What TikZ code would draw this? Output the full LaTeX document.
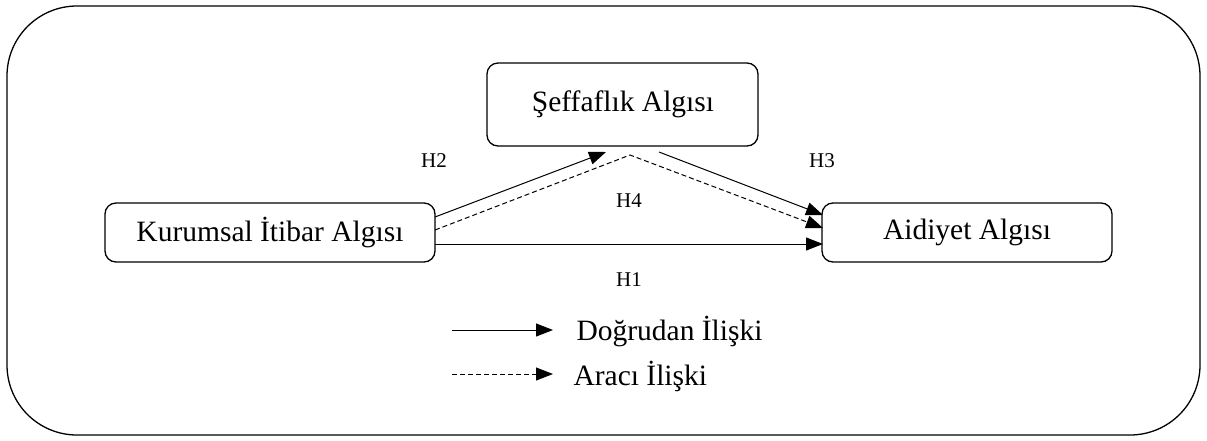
\documentclass[tikz,border=0pt]{standalone}
\usepackage{fontspec}
\setmainfont{Liberation Serif}
\usetikzlibrary{arrows.meta}
\begin{document}
\begin{tikzpicture}[x=1pt,y=-1pt,
  box/.style={draw,line width=1.3pt,rounded corners=11pt},
  big/.style={font=\fontsize{29.5}{32}\selectfont},
  tip/.style={-{Triangle[length=17pt,width=13pt]}},
  link/.style={tip,line width=1pt},
  mediated/.style={tip,line width=1pt,dash pattern=on 5pt off 3pt},
  hlabel/.style={font=\fontsize{21}{24}\selectfont},
  legend/.style={big,anchor=west}]
\useasboundingbox (0,0) rectangle (1207,440);
% outer frame
\draw[line width=1.3pt,rounded corners=70pt] (7,6) rectangle (1200,435);
% constructs
\draw[box] (105,203) rectangle (435,262);
\node[big] (kia) at (270,232.5) {Kurumsal İtibar Algısı};
\draw[box] (487,63) rectangle (758,146);
\node[big] (sa) at (623,104.5) {Şeffaflık Algısı};
\draw[box] (822,203) rectangle (1112,262);
\node[big] (aa) at (967,232.5) {Aidiyet Algısı};
% anchor points on the box borders
\coordinate (k1) at (435,217);
\coordinate (k2) at (435,230);
\coordinate (k3) at (435,244);
\coordinate (s1) at (606,152);
\coordinate (s2) at (630,155);
\coordinate (s3) at (659,152);
\coordinate (a1) at (823,215);
\coordinate (a2) at (823,228);
\coordinate (a3) at (823,244);
% paths
\draw[link] (k1) -- (s1);
\draw[link] (s3) -- (a1);
\draw[mediated] (k2) -- (s2) -- (a2);
\draw[link] (k3) -- (a3);
% hypothesis labels
\node[hlabel] (h2) at (434,161) {H2};
\node[hlabel] (h3) at (822,161) {H3};
\node[hlabel] (h4) at (629,201) {H4};
\node[hlabel] (h1) at (629,280) {H1};
% legend
\coordinate (l1a) at (452,330);
\coordinate (l1b) at (553,330);
\coordinate (l2a) at (452,374);
\coordinate (l2b) at (553,374);
\draw[link] (l1a) -- (l1b);
\draw[mediated] (l2a) -- (l2b);
\node[legend] (ld) at (573,332) {Doğrudan İlişki};
\node[legend] (lm) at (570,376) {Aracı İlişki};
\end{tikzpicture}
\end{document}
